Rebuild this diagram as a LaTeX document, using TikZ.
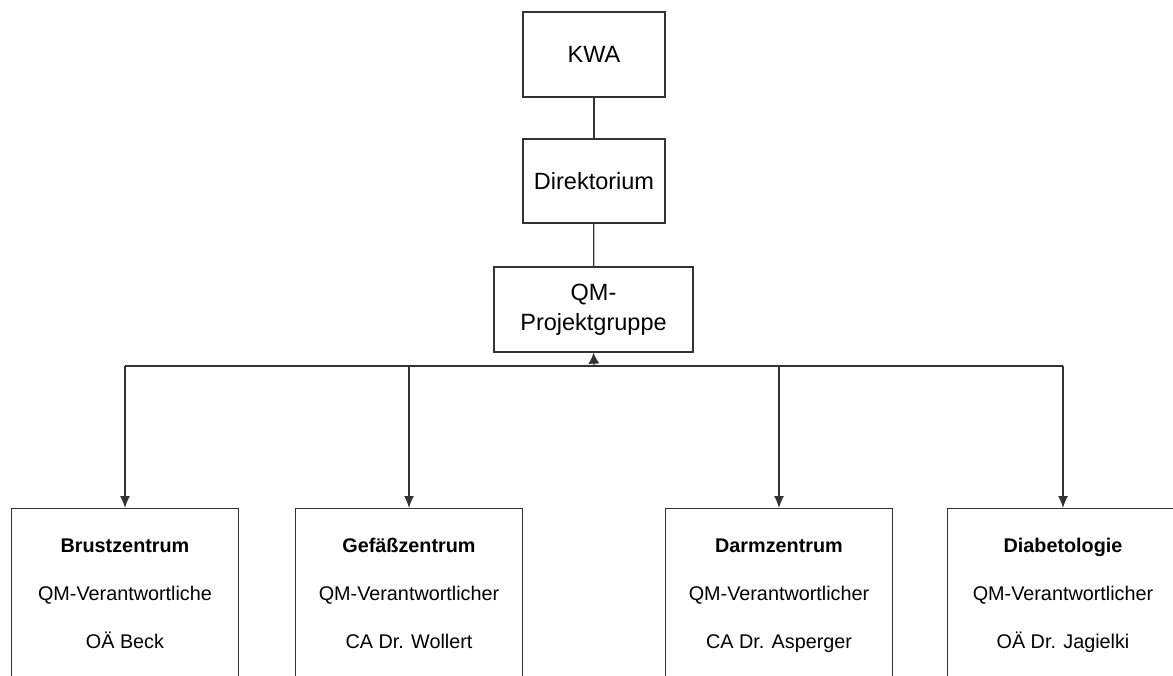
\documentclass[tikz,border=0pt]{standalone}
\usepackage{fontspec}
\setmainfont{Liberation Sans}
\usetikzlibrary{arrows.meta}
\begin{document}
\begin{tikzpicture}[x=1pt,y=-1pt,
  topbox/.style={draw=black!80,line width=1.3pt,rectangle,inner sep=0pt,align=center,
    font=\fontsize{23.5}{30}\selectfont},
  botbox/.style={draw=black!80,line width=1.3pt,rectangle,inner sep=0pt,anchor=north,
    minimum width=227pt,minimum height=200pt},
  bottxt/.style={inner sep=0pt,anchor=base,font=\fontsize{19.8}{24}\selectfont},
  conn/.style={draw=black!80,line width=1.3pt},
  arr/.style={conn,-{Latex[length=12pt,width=10pt]}}]
\useasboundingbox (0,0) rectangle (1173,675);
\clip (0,0) rectangle (1173,675);
\fill[white] (0,0) rectangle (1173,675);

\node[topbox,minimum width=142pt,minimum height=85pt] (kwa) at (594,54.5) {KWA};
\node[topbox,minimum width=142pt,minimum height=84pt] (dir) at (594,181) {Direktorium};
\node[topbox,minimum width=199pt,minimum height=85pt] (qm) at (593.5,309.5) {QM-\\Projektgruppe};

\draw[conn] (kwa) -- (dir);
\draw[conn] (dir) -- (qm);

\coordinate (j) at (594,366);
\coordinate (j1) at (125,366);
\coordinate (j2) at (409,366);
\coordinate (j3) at (779,366);
\coordinate (j4) at (1063,366);

\node[botbox] (b1) at (125,508) {};
\node[botbox] (b2) at (409,508) {};
\node[botbox] (b3) at (779,508) {};
\node[botbox,minimum width=231pt] (b4) at (1063,508) {};

\draw[conn] (j1) -- (j4);
\draw[conn,-{Latex[length=11pt,width=11pt]}] (j) -- (qm.south);
\draw[arr] (j1) -- (b1.north);
\draw[arr] (j2) -- (b2.north);
\draw[arr] (j3) -- (b3.north);
\draw[arr] (j4) -- (b4.north);

\node[bottxt,font=\fontsize{19.8}{24}\selectfont\bfseries] (t1a) at (125,552) {Brustzentrum};
\node[bottxt] (t1b) at (125,600) {QM-Verantwortliche};
\node[bottxt] (t1c) at (125,648) {OÄ Beck};

\node[bottxt,font=\fontsize{19.8}{24}\selectfont\bfseries] (t2a) at (409,552) {Gefäßzentrum};
\node[bottxt] (t2b) at (409,600) {QM-Verantwortlicher};
\node[bottxt] (t2c) at (409,648) {CA Dr. Wollert};

\node[bottxt,font=\fontsize{19.8}{24}\selectfont\bfseries] (t3a) at (779,552) {Darmzentrum};
\node[bottxt] (t3b) at (779,600) {QM-Verantwortlicher};
\node[bottxt] (t3c) at (779,648) {CA Dr. Asperger};

\node[bottxt,font=\fontsize{19.8}{24}\selectfont\bfseries] (t4a) at (1063,552) {Diabetologie};
\node[bottxt] (t4b) at (1063,600) {QM-Verantwortlicher};
\node[bottxt] (t4c) at (1063,648) {OÄ Dr. Jagielki};
\end{tikzpicture}
\end{document}
